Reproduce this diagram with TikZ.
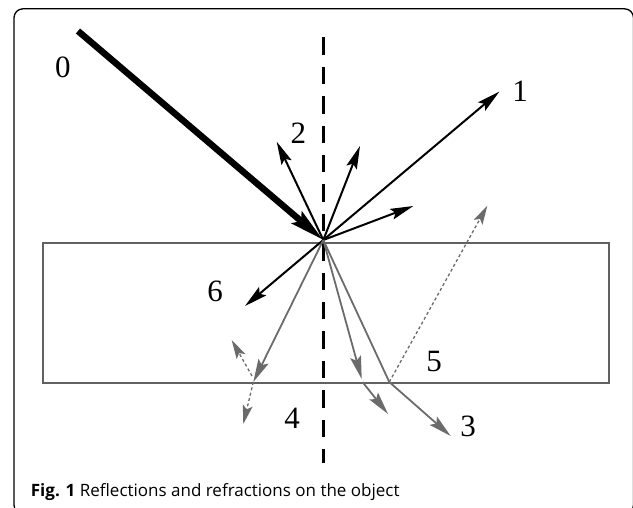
\documentclass[tikz,border=0pt]{standalone}
\usepackage{fontspec}
\setmainfont{Liberation Serif}
\newfontfamily\capfont{Open Sans}
\usetikzlibrary{arrows.meta}
\definecolor{raygray}{gray}{0.42}
\definecolor{slabgray}{gray}{0.38}
\tikzset{
  ray/.style={line width=2pt, -{Stealth[length=23pt,width=11pt,inset=4pt]}},
  grayray/.style={ray, draw=raygray, line width=1.8pt},
  dashray/.style={draw=raygray, line width=1.3pt, dash pattern=on 3pt off 2.5pt,
     -{Stealth[length=19pt,width=10pt,inset=4pt,color=raygray]}},
  lbl/.style={font=\fontsize{31}{33}\selectfont, inner sep=0pt},
}
\begin{document}
\begin{tikzpicture}[x=1pt,y=-1pt]
\useasboundingbox (0,0) rectangle (633,507);
\begin{scope}
\clip (0,0) rectangle (633,507);
\draw[line width=1.3pt, rounded corners=9pt] (14,8.8) rectangle (633.5,514);
\end{scope}
% slab
\node[draw=slabgray, line width=1.8pt, minimum width=566.6pt, minimum height=140.6pt, inner sep=0pt, anchor=north west] (slab) at (41.7,241.7) {};
% normal
\coordinate (ntop) at (323.3,37.3);
\coordinate (nbot) at (323.3,463);
\draw[line width=3.6pt, dash pattern=on 17.5pt off 11.9pt] (ntop) -- (nbot);
% hit point
\coordinate (O) at (323.3,240);
% incident ray
\coordinate (src) at (78,31);
\draw[line width=6.5pt, -{Stealth[length=34pt,width=15pt,inset=5pt]}] (src) -- (O);
% reflections
\coordinate (r1) at (499.3,91.7);
\coordinate (r2l) at (276.7,141.7);
\coordinate (r2r) at (360,146);
\coordinate (r3) at (413.3,206);
\coordinate (r6) at (245,306);
\draw[ray] (O) -- (r1);
\draw[ray] (O) -- (r2l);
\draw[ray] (O) -- (r2r);
\draw[ray] (O) -- (r3);
\draw[ray] (O) -- (r6);
% refracted rays
\coordinate (bl) at (253.3,382);
\coordinate (bm1) at (361.7,379);
\coordinate (bm) at (362.5,382);
\coordinate (bmo) at (388,414);
\coordinate (br) at (389.3,382);
\coordinate (bro) at (450.7,436);
\draw[grayray] (O) -- (bl);
\draw[grayray] (O) -- (bm1);
\draw[grayray] (bm) -- (bmo);
\draw[draw=raygray, line width=1.8pt] (O) -- (br);
\draw[grayray] (br) -- (bro);
% dashed rays
\coordinate (dl) at (243.3,424);
\coordinate (du) at (231.7,340);
\coordinate (du0) at (252,376);
\coordinate (dr) at (487.3,205.7);
\draw[dashray] (bl) -- (dl);
\draw[dashray] (du0) -- (du);
\draw[dashray] (br) -- (dr);
% labels
\node[lbl] (l0) at (63,67) {0};
\node[lbl] (l1) at (520,91.7) {1};
\node[lbl] (l2) at (298.3,133.3) {2};
\node[lbl] (l3) at (468,426.7) {3};
\node[lbl] (l4) at (292,418.3) {4};
\node[lbl] (l5) at (434,361.7) {5};
\node[lbl] (l6) at (215,291.7) {6};
% caption
\node[anchor=base west, inner sep=0pt, font=\capfont\fontsize{17}{20}\selectfont] (cap) at (30.7,496)
  {\textbf{Fig. 1} Reflections and refractions on the object};
\end{tikzpicture}
\end{document}
